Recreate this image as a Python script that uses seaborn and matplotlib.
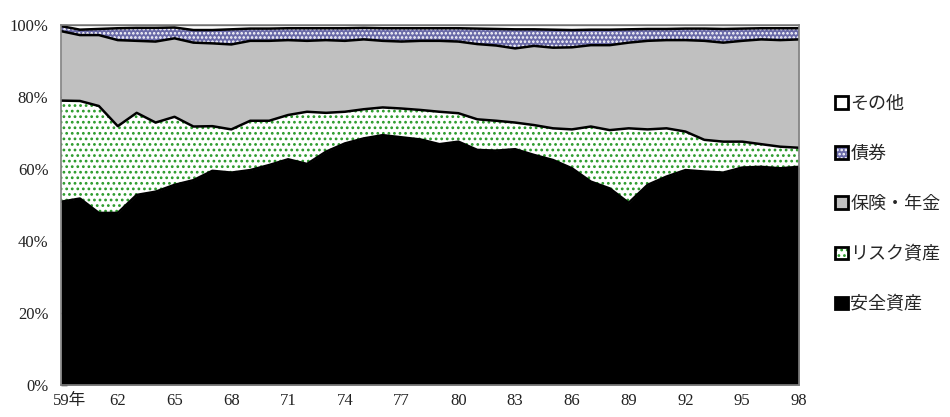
import numpy as np
import pandas as pd
import matplotlib
matplotlib.use("Agg")
import matplotlib.pyplot as plt
import matplotlib.transforms as mtransforms
from matplotlib.patches import Patch
import seaborn as sns

# ---------------- data (cumulative shares, % of total) ----------------
years = list(range(1959, 1999))
# top of 安全資産 (cumulative)
safe_top = [50.9, 51.8, 47.8, 47.8, 52.8, 53.7, 55.6, 56.9, 59.5, 59.0,
            59.7, 61.1, 62.7, 61.4, 64.8, 67.1, 68.5, 69.4, 68.8, 68.2,
            66.9, 67.6, 65.3, 65.1, 65.5, 63.9, 62.5, 60.2, 56.5, 54.6,
            50.6, 55.6, 57.9, 59.7, 59.3, 59.0, 60.4, 60.6, 60.2, 60.6]
# top of リスク資産 (cumulative)
risk_top = [79.0, 78.9, 77.5, 71.9, 75.6, 72.9, 74.5, 71.8, 71.9, 71.0,
            73.4, 73.4, 75.0, 75.9, 75.6, 75.9, 76.6, 77.1, 76.8, 76.4,
            75.9, 75.5, 73.8, 73.4, 72.9, 72.2, 71.3, 71.0, 71.8, 70.8,
            71.3, 71.0, 71.3, 70.4, 68.1, 67.6, 67.6, 66.9, 66.2, 65.9]
# top of 保険・年金 (cumulative)
ins_top = [98.3, 97.2, 97.2, 95.8, 95.6, 95.4, 96.3, 95.1, 94.9, 94.6,
           95.6, 95.6, 95.8, 95.6, 95.8, 95.6, 96.0, 95.6, 95.4, 95.6,
           95.6, 95.4, 94.7, 94.3, 93.5, 94.2, 93.7, 93.8, 94.4, 94.4,
           95.1, 95.6, 95.8, 95.8, 95.6, 95.1, 95.6, 96.0, 95.8, 96.0]
# top of 債券 (cumulative)
bond_top = [99.7, 98.7, 98.9, 99.1, 99.2, 99.2, 99.3, 98.6, 98.6, 98.8,
            99.0, 99.0, 99.1, 99.1, 99.1, 99.1, 99.2, 99.1, 99.1, 99.1,
            99.1, 99.1, 99.0, 98.9, 98.8, 98.8, 98.7, 98.6, 98.7, 98.7,
            98.8, 98.9, 98.9, 99.0, 99.0, 98.9, 99.0, 99.1, 99.1, 99.1]
total = [100.0] * len(years)

series_names = ["安全資産", "リスク資産", "保険・年金", "債券", "その他"]
xtick_years = [1959, 1962, 1965, 1968, 1971, 1974, 1977, 1980, 1983, 1986,
               1989, 1992, 1995, 1998]
xtick_labels = ["59年", "62", "65", "68", "71", "74", "77", "80", "83", "86",
                "89", "92", "95", "98"]
ytick_vals = [0, 20, 40, 60, 80, 100]
ytick_labels = ["0%", "20%", "40%", "60%", "80%", "100%"]

df = pd.DataFrame({"year": years, "safe": safe_top, "risk": risk_top,
                   "ins": ins_top, "bond": bond_top, "total": total})

# ---------------- style ----------------
sns.set_theme(style="white")
plt.rcParams["font.family"] = ["Liberation Serif", "Noto Sans CJK JP", "DejaVu Sans"]
plt.rcParams["hatch.linewidth"] = 1.2

fig = plt.figure(figsize=(9.5, 4.17), dpi=100)
ax = fig.add_axes([61 / 950, 32 / 417, 738 / 950, 360 / 417])

black = "#000000"
green = "#2a9a2a"
gray = "#c0c0c0"
bond_col = "#6a6aa8"

x = df["year"].to_numpy()
zeros = np.zeros(len(x))
# 安全資産
ax.fill_between(x, zeros, df["safe"], facecolor=black, edgecolor=black, linewidth=0)
# リスク資産 (white with green dots)
ax.fill_between(x, df["safe"], df["risk"], facecolor="white", edgecolor=green,
                hatch="...", linewidth=0)
# 保険・年金
ax.fill_between(x, df["risk"], df["ins"], facecolor=gray, edgecolor=gray, linewidth=0)
# 債券 (blue with white dots)
ax.fill_between(x, df["ins"], df["bond"], facecolor=bond_col, edgecolor="white",
                hatch="....", linewidth=0)
# その他
ax.fill_between(x, df["bond"], df["total"], facecolor="white", edgecolor="white",
                linewidth=0)

# boundary lines
for col in ["safe", "risk", "ins", "bond"]:
    sns.lineplot(data=df, x="year", y=col, ax=ax, color=black, linewidth=1.8,
                 legend=False)
sns.lineplot(data=df, x="year", y="total", ax=ax, color="#333333", linewidth=1.6,
             legend=False)

ax.set_xlim(1959, 1998)
ax.set_ylim(0, 100)
ax.set_xlabel("")
ax.set_ylabel("")
ax.set_xticks(xtick_years)
ax.set_xticklabels(xtick_labels)
ax.set_yticks(ytick_vals)
ax.set_yticklabels(ytick_labels)
ax.tick_params(axis="x", length=0, pad=6, labelsize=12, colors="#222222")
ax.tick_params(axis="y", direction="in", length=4, width=1, color=black, pad=9,
               labelsize=12, labelcolor="#222222", left=True)
for lab in ax.get_xticklabels()[:1]:
    lab.set_transform(lab.get_transform() +
                      mtransforms.ScaledTranslation(9 / 100, 0, fig.dpi_scale_trans))
for s in ax.spines.values():
    s.set_color("#808080")
    s.set_linewidth(1.2)
    s.set_zorder(5)

# legend (top to bottom: その他, 債券, 保険・年金, リスク資産, 安全資産)
def handle(face, hatch_col=None, hatch=None):
    inner = Patch(facecolor=face, edgecolor=hatch_col if hatch_col else face,
                  hatch=hatch, linewidth=0)
    border = Patch(facecolor="none", edgecolor=black, linewidth=2)
    return (inner, border)

handles = [handle("white"),
           handle(bond_col, "white", "...."),
           handle(gray),
           handle("white", green, "..."),
           handle(black)]
labels = ["その他", "債券", "保険・年金", "リスク資産", "安全資産"]
fig.legend(handles, labels, loc="center left",
           bbox_to_anchor=(835 / 950, 1 - 204 / 417),
           bbox_transform=fig.transFigure, frameon=False,
           prop={"family": ["Noto Sans CJK JP"], "size": 13},
           handlelength=0.7, handleheight=0.7, handletextpad=0.15,
           labelspacing=1.78, borderpad=0, borderaxespad=0)

fig.savefig("out.png", dpi=100)
